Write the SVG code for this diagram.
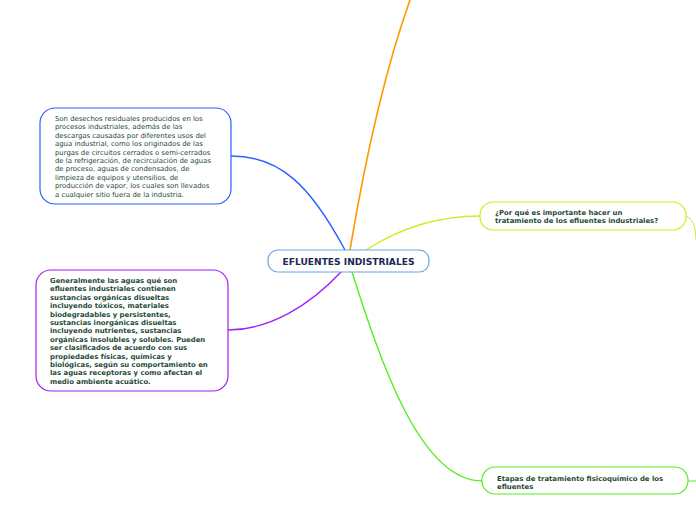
<svg xmlns="http://www.w3.org/2000/svg" width="696" height="520" viewBox="0 0 696 520">
<style>
.t{font-family:"DejaVu Sans","Liberation Sans",sans-serif;font-size:6.9px;fill:#1e4a36}
.b{font-weight:bold}
.c{fill:none;stroke-linecap:round}
.n{fill:#fff;stroke-width:1.2}
</style>
<rect width="696" height="520" fill="#fff"/>
<g id="connectors">
<path class="c" d="M231,156 C280,156 310,185 345,250" stroke="#2962ff" stroke-width="1.4"/>
<path class="c" d="M228,330 C270,330 310,305 341,272" stroke="#a020f0" stroke-width="1.4"/>
<path class="c" d="M350,250 C365,160 385,70 410,0" stroke="#ff9900" stroke-width="1.6"/>
<path class="c" d="M366,250 C400,228 440,216 480,216" stroke="#ccee22" stroke-width="1.3"/>
<path class="c" d="M352,272 C380,360 420,481 482,481" stroke="#55ee22" stroke-width="1.4"/>
<path class="c" d="M686,216 C692,218 696,226 696,240" stroke="#ccee22" stroke-width="1"/>
<path class="c" d="M688,481 L696,481" stroke="#55ee22" stroke-width="1"/>
</g>
<g id="center">
<rect class="n" x="268" y="250" width="161" height="22" rx="10" stroke="#6aa8dc"/>
<text x="348.5" y="264.5" text-anchor="middle" font-family="DejaVu Sans,Liberation Sans,sans-serif" font-size="9.1" font-weight="bold" fill="#1c2951">EFLUENTES INDISTRIALES</text>
</g>
<g id="node-blue">
<rect class="n" x="40" y="108" width="191" height="96" rx="15" stroke="#2962ff"/>
<text class="t" x="55">
<tspan x="55" y="121">Son desechos residuales producidos en los</tspan>
<tspan x="55" y="129.4">procesos industriales, además de las</tspan>
<tspan x="55" y="137.8">descargas causadas por diferentes usos del</tspan>
<tspan x="55" y="146.2">agua industrial, como los originados de las</tspan>
<tspan x="55" y="154.6">purgas de circuitos cerrados o semi-cerrados</tspan>
<tspan x="55" y="163">de la refrigeración, de recirculación de aguas</tspan>
<tspan x="55" y="171.4">de proceso, aguas de condensados, de</tspan>
<tspan x="55" y="179.8">limpieza de equipos y utensilios, de</tspan>
<tspan x="55" y="188.2">producción de vapor, los cuales son llevados</tspan>
<tspan x="55" y="196.6">a cualquier sitio fuera de la industria.</tspan>
</text>
</g>
<g id="node-purple">
<rect class="n" x="36" y="270" width="192" height="121" rx="15" stroke="#a020f0"/>
<text class="t b">
<tspan x="50" y="283">Generalmente las aguas qué son</tspan>
<tspan x="50" y="291.4">efluentes industriales contienen</tspan>
<tspan x="50" y="299.8">sustancias orgánicas disueltas</tspan>
<tspan x="50" y="308.2">incluyendo tóxicos, materiales</tspan>
<tspan x="50" y="316.6">biodegradables y persistentes,</tspan>
<tspan x="50" y="325">sustancias inorgánicas disueltas</tspan>
<tspan x="50" y="333.4">incluyendo nutrientes, sustancias</tspan>
<tspan x="50" y="341.8">orgánicas insolubles y solubles. Pueden</tspan>
<tspan x="50" y="350.2">ser clasificados de acuerdo con sus</tspan>
<tspan x="50" y="358.6">propiedades físicas, químicas y</tspan>
<tspan x="50" y="367">biológicas, según su comportamiento en</tspan>
<tspan x="50" y="375.4">las aguas receptoras y como afectan el</tspan>
<tspan x="50" y="383.8">medio ambiente acuático.</tspan>
</text>
</g>
<g id="node-yellow">
<rect class="n" x="480" y="202" width="206" height="28" rx="13" stroke="#ccee22"/>
<text class="t b">
<tspan x="495" y="214.5">¿Por qué es importante hacer un</tspan>
<tspan x="495" y="223">tratamiento de los efluentes industriales?</tspan>
</text>
</g>
<g id="node-green">
<rect class="n" x="482" y="467" width="206" height="27" rx="13" stroke="#55ee22"/>
<text class="t b">
<tspan x="497" y="480.5">Etapas de tratamiento fisicoquímico de los</tspan>
<tspan x="497" y="489">efluentes</tspan>
</text>
</g>
</svg>
